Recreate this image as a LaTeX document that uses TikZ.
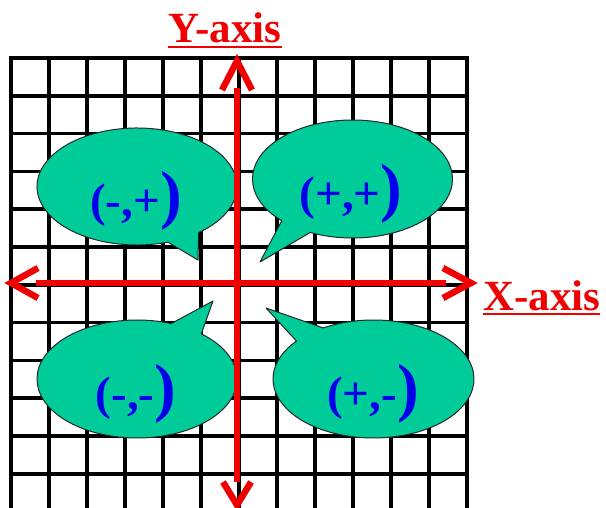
\documentclass[tikz,border=0pt]{standalone}
\usepackage{fontspec}
\setmainfont{Liberation Serif}
\definecolor{bubble}{RGB}{0,204,153}
\definecolor{axred}{RGB}{240,0,0}
\definecolor{txtblue}{RGB}{0,0,235}
\begin{document}
\begin{tikzpicture}[x=1pt,y=-1pt,
  gridline/.style={black,line width=3.5pt,line cap=rect},
  axisline/.style={axred,line width=6.5pt},
  bubbleshape/.style={fill=bubble,draw=black!85,line width=1pt,line join=round},
  bubbletext/.style={txtblue,font=\bfseries\fontsize{47}{47}\selectfont,inner sep=0pt,anchor=base},
  axislabel/.style={axred,font=\bfseries\fontsize{43}{43}\selectfont,inner sep=0pt},
  underline/.style={axred,line width=2.5pt}
]
\useasboundingbox (0,0) rectangle (606,508);
% grid
\begin{scope}
\clip (0,0) rectangle (606,508);
\foreach \i in {0,...,12} \draw[gridline] (11+38*\i,58) -- (11+38*\i,515);
\foreach \j in {0,...,11} \draw[gridline] (11,58+37.8*\j) -- (467,58+37.8*\j);
\end{scope}
% bubbles
\filldraw[bubbleshape] ({137+100*cos(72)},{186.5+58.5*sin(72)}) arc[start angle=72,end angle=412,x radius=100,y radius=58.5] -- (198,260) -- cycle;
\filldraw[bubbleshape] ({352.5+100*cos(135)},{179+59*sin(135)}) arc[start angle=135,end angle=475,x radius=100,y radius=59] -- (260,262) -- cycle;
\filldraw[bubbleshape] ({137+100*cos(-50)},{379+59*sin(-50)}) arc[start angle=-50,end angle=290,x radius=100,y radius=59] -- (213,301) -- cycle;
\filldraw[bubbleshape] ({373.5+100.5*cos(-120)},{379+59*sin(-120)}) arc[start angle=-120,end angle=220,x radius=100.5,y radius=59] -- (266,308) -- cycle;
% bubble texts
\node[bubbletext] (tl) at (136,217) {(-,+\fontsize{65}{65}\selectfont)};
\node[bubbletext] (tr) at (351,210) {(+,+\fontsize{65}{65}\selectfont)};
\node[bubbletext] (bl) at (136,409) {(-,-\fontsize{65}{65}\selectfont)};
\node[bubbletext] (br) at (373,409) {(+,-\fontsize{65}{65}\selectfont)};
% axes
\coordinate (xl) at (11,283);
\coordinate (xr) at (471,283);
\coordinate (yt) at (237,61);
\coordinate (yb) at (237,505);
\draw[axisline] (36,283) -- (446,283);
\draw[axisline] (237,88) -- (237,482);
\draw[axisline] (38,268) -- (xl) -- (38,298);
\draw[axisline] (443,268) -- (xr) -- (443,298);
\draw[axisline] (222,90) -- (yt) -- (252,90);
\draw[axisline] (223,482) -- (yb) -- (251,482);
% labels
\node[axislabel,anchor=base] (ylab) at (225,43) {Y-axis};
\draw[underline] ([yshift=-4pt]ylab.base west) -- ([yshift=-4pt]ylab.base east);
\node[axislabel,anchor=base west] (xlab) at (483,310) {X-axis};
\draw[underline] ([yshift=-4pt]xlab.base west) -- ([yshift=-4pt]xlab.base east);
\end{tikzpicture}
\end{document}
